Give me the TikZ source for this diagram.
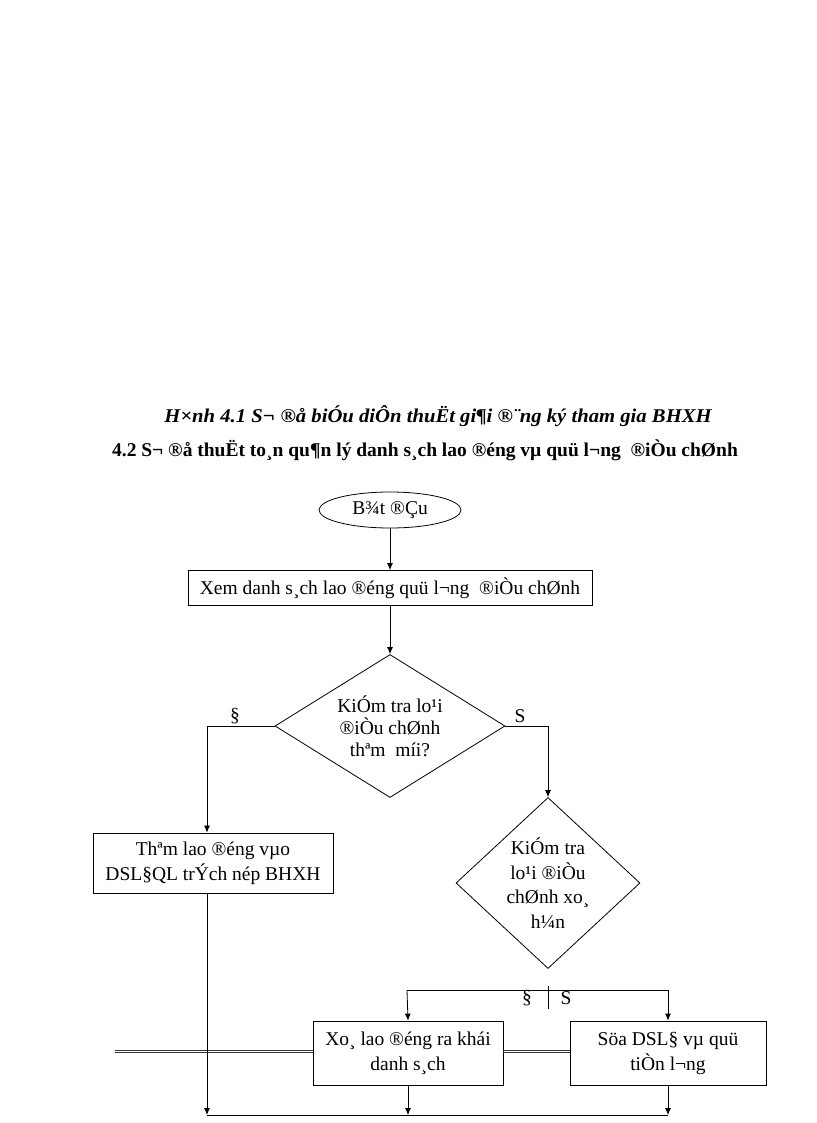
\documentclass[tikz,border=0pt]{standalone}
\usepackage{graphicx}
\usepackage{fontspec}
\setmainfont{Liberation Serif}
\usetikzlibrary{arrows.meta,shapes.geometric}
\begin{document}
\begin{tikzpicture}[x=1pt,y=-1pt,
  every node/.style={font=\fontsize{19.5}{25}\selectfont},
  box/.style={draw, line width=0.8pt, inner sep=0pt, align=center},
  dia/.style={draw, diamond, line width=0.8pt, inner sep=0pt},
  arr/.style={-{Latex[length=7pt,width=6pt]}, line width=0.8pt},
  ln/.style={line width=0.8pt},
  dblln/.style={draw=black!80, line width=0.8pt},
  lbl/.style={inner sep=1pt}]
\useasboundingbox (0,0) rectangle (816,1123);

\node (t1) at (438,416) {\scalebox{1.06}[1]{\bfseries\itshape H×nh 4.1 S¬ ®å biÓu diÔn thuËt gi¶i ®¨ng ký tham gia BHXH}};
\node (t2) at (425,450) {\bfseries 4.2 S¬ ®å thuËt to¸n qu¶n lý danh s¸ch lao ®éng vµ quü l¬ng\ \ ®iÒu chØnh};

\node[draw, ellipse, line width=0.8pt, minimum width=142, minimum height=36, inner sep=0pt] (start) at (390,510) {B¾t ®Çu};
\node[box, minimum width=404, minimum height=35] (view) at (390,588) {Xem danh s¸ch lao ®éng quü l¬ng\ \ ®iÒu chØnh};
\node[dia, minimum width=230, minimum height=143,
  label={[align=center, font=\fontsize{19.5}{22}\selectfont]center:KiÓm tra lo¹i\\®iÒu chØnh\\thªm\ \ míi?}] (d1) at (390,726) {};
\node[box, minimum width=240, minimum height=60] (add) at (213,863) {Thªm lao ®éng vµo\\DSL§QL trÝch nép BHXH};
\node[dia, minimum width=184, minimum height=171,
  label={[align=center, font=\fontsize{19.5}{24.5}\selectfont]center:KiÓm tra\\lo¹i ®iÒu\\chØnh xo¸\\h¼n}] (d2) at (548,883) {};
\node[box, minimum width=190, minimum height=64] (del) at (408,1053) {Xo¸ lao ®éng ra khái\\danh s¸ch};
\node[box, minimum width=196, minimum height=64] (edit) at (668,1053) {Söa DSL§ vµ quü\\tiÒn l¬ng};

\draw[arr] (start) -- (view);
\draw[arr] (view) -- (d1);

\coordinate (jl) at (207,726);
\coordinate (jr) at (548,726);
\draw[arr] (d1.west) -- (jl) -- (jl |- add.north);
\draw[arr] (d1.east) -- (jr) -- (d2.north);
\node[lbl] (ly1) at (235,716) {§};
\node[lbl] (ln1) at (520,716) {S};

\coordinate (sl) at (407,990);
\coordinate (sr) at (668,990);
\draw[ln] (sl) -- (sr);
\draw[arr] (sl) -- (del.north);
\draw[arr] (sr) -- (edit.north);
\coordinate (tk1) at (548,986);
\coordinate (tk2) at (548,1009);
\draw[ln] (tk1) -- (tk2);
\node[lbl] (ly2) at (527,998) {§};
\node[lbl] (ln2) at (566,998) {S};

% double connector lines
\coordinate (dla) at (115,1050);
\coordinate (dlb) at (115,1052.2);
\draw[dblln] (dla) -- (dla -| del.west);
\draw[dblln] (dlb) -- (dlb -| del.west);
\draw[dblln] (del.east |- dla) -- (edit.west |- dla);
\draw[dblln] (del.east |- dlb) -- (edit.west |- dlb);

\coordinate (b1) at (207,1115);
\coordinate (b2) at (408,1115);
\coordinate (b3) at (668,1115);
\draw[arr] (jl |- add.south) -- (b1);
\draw[arr] (del.south) -- (b2);
\draw[arr] (edit.south) -- (b3);
\draw[ln] (b1) -- (b3);
\end{tikzpicture}
\end{document}
